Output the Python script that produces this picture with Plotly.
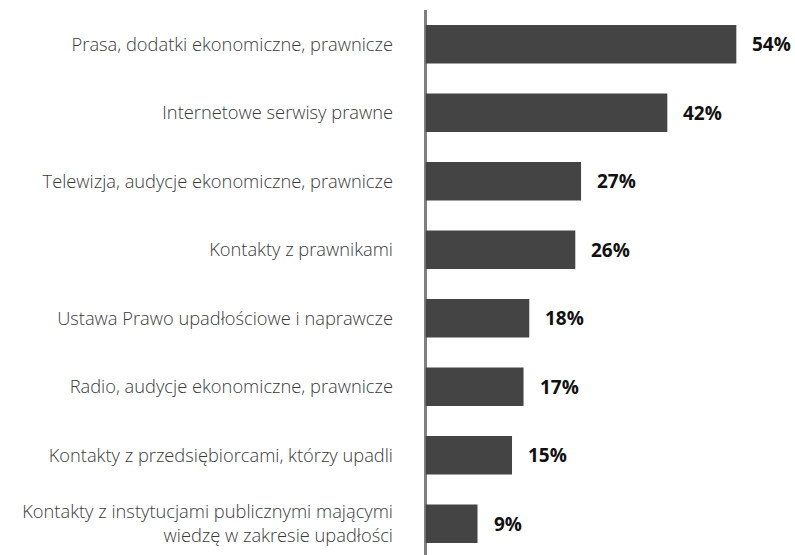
import plotly.graph_objects as go

# Sources of knowledge about bankruptcy law (share of respondents, %)
categories = [
    "Prasa, dodatki ekonomiczne, prawnicze",
    "Internetowe serwisy prawne",
    "Telewizja, audycje ekonomiczne, prawnicze",
    "Kontakty z prawnikami",
    "Ustawa Prawo upadłościowe i naprawcze",
    "Radio, audycje ekonomiczne, prawnicze",
    "Kontakty z przedsiębiorcami, którzy upadli",
    "Kontakty z instytucjami publicznymi mającymi<br>wiedzę w zakresie upadłości",
]
values = [54, 42, 27, 26, 18, 17, 15, 9]
value_labels = [f"{v}%" for v in values]

BAR_COLOR = "#444444"
AXIS_COLOR = "#808080"
LABEL_COLOR = "#3a3a3a"

fig = go.Figure(
    go.Bar(
        x=values,
        y=categories,
        orientation="h",
        marker=dict(color=BAR_COLOR, line=dict(width=0)),
        hoverinfo="skip",
    )
)

# Bold percentage labels to the right of each bar
for cat, v, lab in zip(categories, values, value_labels):
    fig.add_annotation(
        x=v, y=cat, text=f"<b>{lab}</b>",
        xanchor="left", yanchor="middle", xshift=14, showarrow=False,
        font=dict(family="Open Sans", size=19, color="#111111"),
    )

fig.update_layout(
    width=795,
    height=555,
    margin=dict(l=420, r=0, t=10, b=0),
    paper_bgcolor="white",
    plot_bgcolor="white",
    bargap=0.44,
    showlegend=False,
    xaxis=dict(
        range=[-1.0, 64.2],
        showgrid=False,
        showticklabels=False,
        ticks="",
        zeroline=True,
        zerolinecolor=AXIS_COLOR,
        zerolinewidth=3,
        layer="above traces",
        fixedrange=True,
    ),
    yaxis=dict(
        range=[7.456, -0.5],
        showgrid=False,
        zeroline=False,
        showline=False,
        ticks="",
        ticklabelstandoff=26,
        tickfont=dict(family="Open Sans", size=18.3, weight=300, color=LABEL_COLOR),
        fixedrange=True,
    ),
)

fig.write_html("out.html")
